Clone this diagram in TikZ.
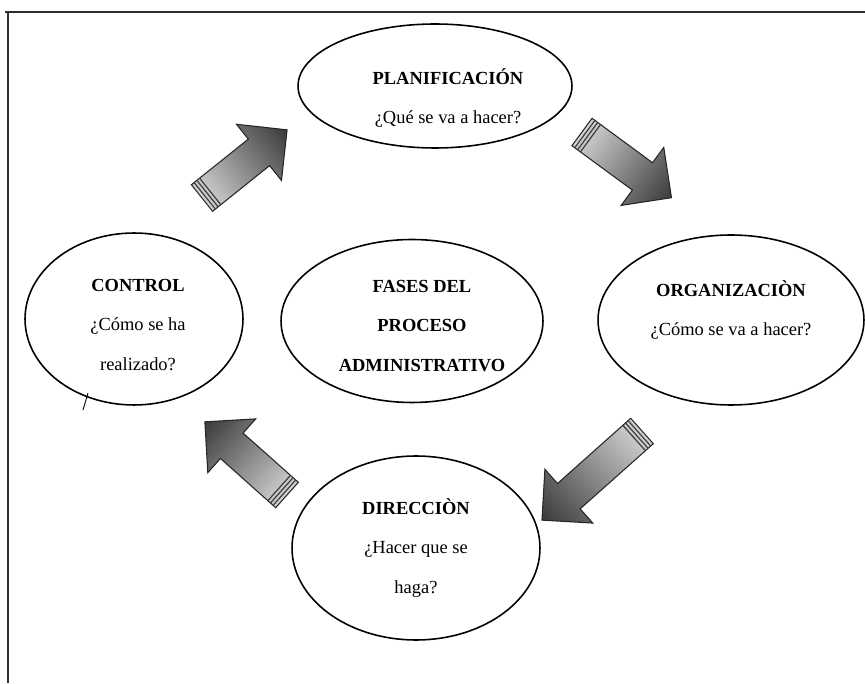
\documentclass[tikz,border=0pt]{standalone}
\usepackage{fontspec}
\setmainfont{Liberation Serif}
\usetikzlibrary{shapes.geometric}
\definecolor{cframe}{HTML}{2E2E2E}
\definecolor{clight}{HTML}{D4D4D4}
\definecolor{cdark}{HTML}{3A3A3A}
\tikzset{
  every picture/.style={line width=0.9pt},
  phase/.style={draw=black, ellipse, inner sep=0pt},
  phasetext/.style={align=center, inner sep=0pt, font=\fontsize{10.5}{22.5}\selectfont},
  frameline/.style={draw=cframe, line width=1.6pt},
  stripe/.style={draw=black!75, line width=0.7pt},
}
\begin{document}
\begin{tikzpicture}[x=0.02cm, y=0.02cm]
  \newcommand{\blockarrow}[4]{%
    \begin{scope}[transform canvas={shift={(#1,#2)}, rotate=#3}]
      \shade[left color=clight, right color=cdark, draw=black!85, line width=0.6pt]
        (0,-17) -- (#4-36,-17) -- (#4-36,-36) -- (#4,0) -- (#4-36,36) -- (#4-36,17) -- (0,17) -- cycle;
      \foreach \s in {3.5,7,10.5} \draw[stripe] (\s,-17) -- (\s,17);
    \end{scope}
  }
  \useasboundingbox (0,0) rectangle (865,683);
  % ---- open frame
  \draw[frameline] (5,671) -- (865,671);
  \draw[frameline] (8,671) -- (8,0);
  % ---- phases
  \node[phase, minimum width=5.48cm, minimum height=2.48cm] (plan) at (435,597) {};
  \node[phase, minimum width=4.36cm, minimum height=3.44cm] (ctrl) at (134,364) {};
  \node[phase, minimum width=5.24cm, minimum height=3.26cm] (fases) at (412,362) {};
  \node[phase, minimum width=5.32cm, minimum height=3.40cm] (org) at (731,363) {};
  \node[phase, minimum width=4.96cm, minimum height=3.68cm] (dir) at (416,135) {};
  % ---- texts, set a little off centre as in the original
  \node[phasetext, xshift=0.26cm, yshift=-0.24cm] (plantext) at (plan) {\textbf{PLANIFICACIÓN}\\¿Qué se va a hacer?};
  \node[phasetext, xshift=0.08cm, yshift=-0.12cm] (ctrltext) at (ctrl) {\textbf{CONTROL}\\¿Cómo se ha\\realizado?};
  \node[phasetext, xshift=0.2cm, yshift=-0.1cm] (fasestext) at (fases) {\textbf{FASES DEL}\\\textbf{PROCESO}\\\textbf{ADMINISTRATIVO}};
  \node[phasetext, yshift=0.2cm] (orgtext) at (org) {\textbf{ORGANIZACIÒN}\\¿Cómo se va a hacer?};
  \node[phasetext] (dirtext) at (dir) {\textbf{DIRECCIÒN}\\¿Hacer que se\\haga?};
  % ---- block arrows between phases
  \blockarrow{202}{485}{38.7}{109}
  \blockarrow{582}{551}{-36.3}{111}
  \blockarrow{642}{252}{221.7}{134}
  \blockarrow{287}{188}{138.3}{110}
  % ---- stray mark under CONTROL
  \draw[line width=0.5pt] (88,290) -- (83,273);
\end{tikzpicture}
\end{document}
